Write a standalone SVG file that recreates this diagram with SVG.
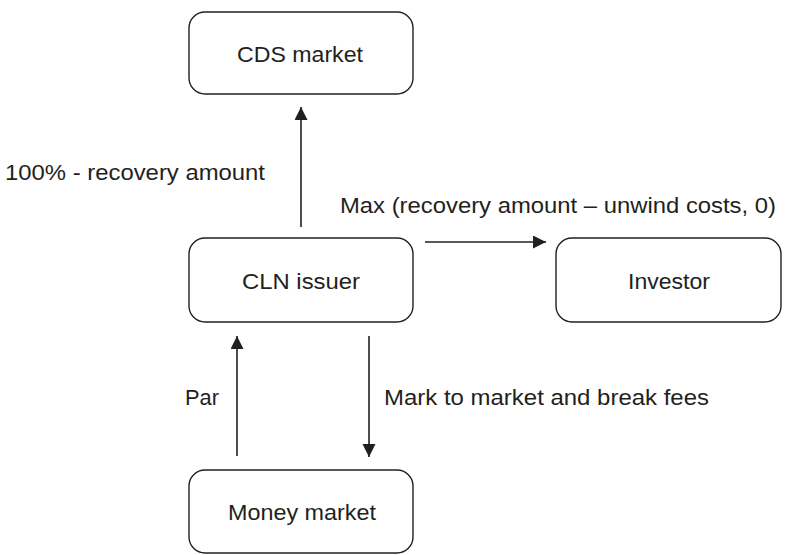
<svg xmlns="http://www.w3.org/2000/svg" width="786" height="555" viewBox="0 0 786 555">
<style>
.box{fill:#fff;stroke:#231f20;stroke-width:1.4}
.t{font-family:"Liberation Sans",Arial,sans-serif;font-size:22.5px;fill:#231f20}
.c{text-anchor:middle}
.ln{stroke:#231f20;stroke-width:1.6;fill:none;marker-end:url(#ah)}
</style>
<defs>
<marker id="ah" markerUnits="userSpaceOnUse" markerWidth="14" markerHeight="14" refX="13" refY="6.5" orient="auto">
<path d="M0,0 L13,6.5 L0,13 z" fill="#231f20"/>
</marker>
</defs>
<rect width="786" height="555" fill="#fff"/>
<g id="cds">
<rect class="box" x="189" y="12" width="224" height="82" rx="16"/>
<text class="t c" x="300" y="62" textLength="126" lengthAdjust="spacingAndGlyphs">CDS market</text>
</g>
<g id="cln">
<rect class="box" x="189" y="238" width="224" height="84" rx="16"/>
<text class="t c" x="301" y="289" textLength="118" lengthAdjust="spacingAndGlyphs">CLN issuer</text>
</g>
<g id="investor">
<rect class="box" x="556" y="238" width="225" height="84" rx="16"/>
<text class="t c" x="669" y="289" textLength="82" lengthAdjust="spacingAndGlyphs">Investor</text>
</g>
<g id="money">
<rect class="box" x="189" y="470" width="224" height="83" rx="16"/>
<text class="t c" x="302" y="520" textLength="148" lengthAdjust="spacingAndGlyphs">Money market</text>
</g>
<g id="connectors">
<line class="ln" x1="301" y1="227" x2="301" y2="107"/>
<line class="ln" x1="237" y1="456" x2="237" y2="336"/>
<line class="ln" x1="369" y1="336" x2="369" y2="457"/>
<line class="ln" x1="425" y1="242" x2="546" y2="242"/>
</g>
<g id="labels">
<text class="t" x="5" y="180" textLength="260" lengthAdjust="spacingAndGlyphs">100% - recovery amount</text>
<text class="t" x="340" y="213" textLength="436" lengthAdjust="spacingAndGlyphs">Max (recovery amount – unwind costs, 0)</text>
<text class="t" x="185" y="405" textLength="34" lengthAdjust="spacingAndGlyphs">Par</text>
<text class="t" x="384" y="405" textLength="325" lengthAdjust="spacingAndGlyphs">Mark to market and break fees</text>
</g>
</svg>
